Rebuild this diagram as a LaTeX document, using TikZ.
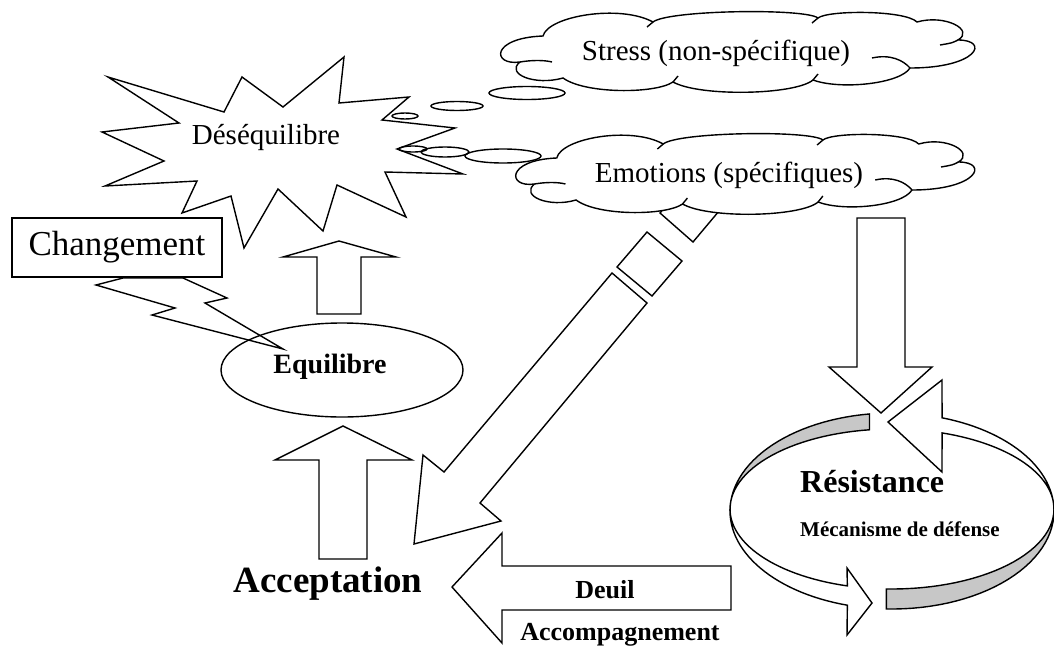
\documentclass[tikz,border=0pt]{standalone}
\usepackage{fontspec}
\setmainfont{Liberation Serif}
\usetikzlibrary{shapes.geometric}
\newcommand{\fsz}[1]{\fontsize{#1}{#1}\selectfont}
\newcommand{\cloudoutline}{(520,62) .. controls (492,66) and (490,38) .. (543,36)
    .. controls (548,16) and (620,4) .. (653,22)
    .. controls (668,10) and (805,8) .. (818,18)
    .. controls (828,10) and (905,10) .. (917,22)
    .. controls (945,14) and (975,30) .. (958,40)
    .. controls (990,40) and (978,68) .. (910,68)
    .. controls (900,84) and (840,90) .. (813,80)
    .. controls (795,95) and (700,97) .. (673,82)
    .. controls (655,94) and (585,94) .. (563,78)
    .. controls (535,86) and (505,74) .. (520,62) -- cycle}
\newcommand{\cloudmarks}{(520,62) .. controls (532,60) and (544,60) .. (552,62)
    (910,68) .. controls (903,60) and (890,54) .. (872,58)
    (958,40) .. controls (952,43) .. (940,45)
    (653,22) -- (647,27) (818,18) -- (812,23) (813,80) -- (818,74) (673,82) -- (678,76)}

\begin{document}
\begin{tikzpicture}[x=1pt,y=-1pt]
    \tikzstyle{outline}=[draw, line width=1.4pt, line join=miter]
    \tikzstyle{ringband}=[outline, fill=black!22]
    \useasboundingbox (0,0) rectangle (1054,645);

    \draw[outline] (108,77) -- (224,112) -- (242,77) -- (283,107) -- (344,57) -- (339,103) -- (409,97) -- (382,120) -- (455,128) -- (397,149) -- (463,174) -- (385,172) -- (406,217) -- (337,185) -- (323,231) -- (278,189) -- (244,248) -- (231,196) -- (182,213) -- (197,181) -- (105,186) -- (164,161) -- (102,132) -- (179,123) -- cycle;
    \node[font=\fsz{29}, anchor=base] (deseq) at (266,144) {Déséquilibre};

    \foreach \cx/\cy/\rx/\ry in {405/116/13/3, 457/106/26/4.5, 527/93/38/6.5, 413/149/14/3, 445/152/24/5, 503/156/38/7}
        \draw[outline] (\cx,\cy) ellipse [x radius=\rx, y radius=\ry];

    \draw[outline] (660,213) -- (693,242) -- (735,192) -- (702,163) -- cycle;
    \draw[outline] (617,267) -- (647,232) -- (682,261) -- (652,296) -- cycle;
    \draw[outline] (612,273) -- (444,472) -- (423,455) -- (414,544) -- (501,521) -- (480,503) -- (647,303) -- cycle;

    \draw[outline, fill=white] \cloudoutline;
    \draw[outline] \cloudmarks;
    \node[font=\fsz{29}, anchor=base] (stress) at (716,60) {Stress (non-spécifique)};

    \begin{scope}[shift={(972,122)}, xscale=0.968, shift={(-972,0)}]
        \draw[outline, fill=white] \cloudoutline;
        \draw[outline] \cloudmarks;
    \end{scope}
    \node[font=\fsz{29}, anchor=base] (emotions) at (729,182) {Emotions (spécifiques)};

    \node[ellipse, outline, minimum width=242pt, minimum height=94pt] (equilibreshape) at (342,370) {};
    \node[font=\bfseries\fsz{28}, anchor=base] (equilibre) at (330,373) {Equilibre};

    \draw[outline] (123,278) -- (96,285) -- (175,308) -- (152,315) -- (283,349) -- (205,303) -- (227,298) -- (183,278) -- cycle;
    \node[outline, fill=white, minimum width=210pt, minimum height=59pt, inner sep=0pt, font=\fsz{35}] (changement) at (117,247.5) {Changement};

    \draw[outline] (317,314) -- (317,257) -- (283,257) -- (339,241) -- (396,257) -- (361,257) -- (361,314) -- cycle;
    \draw[outline] (319,559) -- (319,460) -- (275,460) -- (343,426) -- (412,460) -- (367,460) -- (367,559) -- cycle;
    \node[font=\bfseries\fsz{37}, anchor=base] (acceptation) at (328,592) {Acceptation};

    \draw[outline] (857,218) -- (857,367) -- (829,367) -- (881,413) -- (932,367) -- (905,367) -- (905,218) -- cycle;

    \draw[outline] (731,566) -- (502,566) -- (502,533) -- (452,587) -- (502,643) -- (502,610) -- (731,610) -- cycle;
    \node[font=\bfseries\fsz{26}, anchor=base] (deuil) at (605,598) {Deuil};
    \node[font=\bfseries\fsz{26}, anchor=base] (accomp) at (620,640) {Accompagnement};

    \draw[ringband] plot[domain=98:180, samples=30] ({892+162*cos(\x)}, {511-98*sin(\x)}) -- plot[domain=180:98, samples=30] ({892+162*cos(\x)}, {509-80*sin(\x)}) -- cycle;
    \draw[outline, fill=white] plot[domain=180:254, samples=30] ({892+162*cos(\x)}, {511-98*sin(\x)}) -- (847,635) -- (872,603) -- (847,568) -- plot[domain=254:180, samples=30] ({892+162*cos(\x)}, {509-80*sin(\x)}) -- cycle;
    \draw[ringband] plot[domain=268:360, samples=30] ({892+162*cos(\x)}, {511-98*sin(\x)}) -- plot[domain=360:268, samples=30] ({892+162*cos(\x)}, {509-80*sin(\x)}) -- cycle;
    \draw[outline, fill=white] plot[domain=0:72, samples=30] ({892+162*cos(\x)}, {511-98*sin(\x)}) -- (942,380) -- (888,422) -- (942,472) -- plot[domain=72:0, samples=30] ({892+162*cos(\x)}, {509-80*sin(\x)}) -- cycle;
    \node[font=\bfseries\fsz{32}, anchor=base west, inner sep=0pt] (resistance) at (800,492) {Résistance};
    \node[font=\bfseries\fsz{21}, anchor=base west, inner sep=0pt] (mecanisme) at (800,536) {Mécanisme de défense};
\end{tikzpicture}
\end{document}
